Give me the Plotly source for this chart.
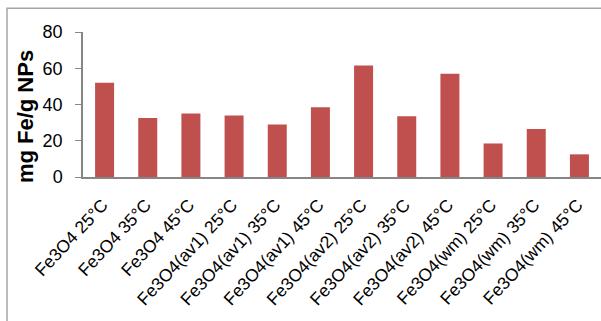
import plotly.graph_objects as go

# Iron uptake per sample and temperature
samples = [
    "Fe3O4 25°C", "Fe3O4 35°C", "Fe3O4 45°C",
    "Fe3O4(av1) 25°C", "Fe3O4(av1) 35°C", "Fe3O4(av1) 45°C",
    "Fe3O4(av2) 25°C", "Fe3O4(av2) 35°C", "Fe3O4(av2) 45°C",
    "Fe3O4(wm) 25°C", "Fe3O4(wm) 35°C", "Fe3O4(wm) 45°C",
]
mg_fe_per_g = [52, 32.5, 35, 34, 29, 38.5, 61.5, 33.5, 57, 18.5, 26.5, 12.5]
y_ticks = [0, 20, 40, 60, 80]

fig = go.Figure(
    go.Bar(
        x=samples,
        y=mg_fe_per_g,
        marker=dict(color="#c0504d", line=dict(width=0)),
    )
)

fig.update_layout(
    width=601,
    height=321,
    margin=dict(l=83, r=0, t=32, b=144),
    paper_bgcolor="white",
    plot_bgcolor="white",
    bargap=0.56,
    showlegend=False,
    font=dict(family="Arial, Liberation Sans, sans-serif", color="#000000"),
    xaxis=dict(
        showline=True,
        linecolor="#868686",
        linewidth=1.5,
        ticks="",
        tickangle=-47,
        tickfont=dict(size=17.5),
        ticklabelshift=-2,
        ticklabelstandoff=9,
        showgrid=False,
    ),
    yaxis=dict(
        range=[0, 80],
        tickvals=y_ticks,
        showline=True,
        linecolor="#868686",
        linewidth=1.5,
        ticks="outside",
        ticklen=6,
        tickcolor="#868686",
        tickfont=dict(size=18),
        ticklabelstandoff=9,
        showgrid=False,
        zeroline=False,
    ),
    annotations=[
        dict(
            text="<b>mg Fe/g NPs</b>",
            xref="paper",
            yref="paper",
            x=-0.112,
            y=0.42,
            textangle=-90,
            showarrow=False,
            font=dict(size=22),
            xanchor="center",
            yanchor="middle",
        )
    ],
    shapes=[
        dict(
            type="rect",
            xref="paper",
            yref="paper",
            x0=-0.1467,
            x1=1.05,
            y0=-1.2,
            y1=1.163,
            line=dict(color="#a6a6a6", width=1.5),
            fillcolor="rgba(0,0,0,0)",
            layer="below",
        )
    ],
)

fig.write_html("out.html")
